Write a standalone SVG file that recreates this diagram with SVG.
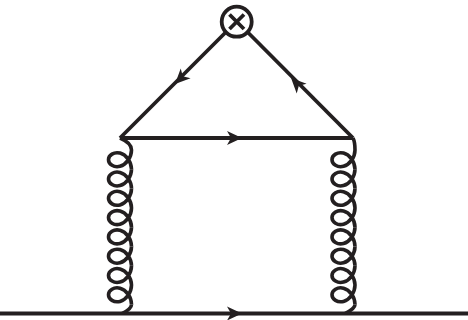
<svg xmlns="http://www.w3.org/2000/svg" width="468" height="320" viewBox="0 0 468 320">
<style>
.l{fill:none;stroke:#231f20;stroke-width:3.8}
.g{fill:none;stroke:#231f20;stroke-width:3.6}
.h{fill:#231f20;stroke:none}
</style>
<defs>
<path id="coil" d="M0 0C0 7.600-5.480 14.670-11.500 16.300C-17.520 17.930-23 14.140-23 9.700C-23 5.260-17.520 1.470-11.500 3.100C-5.480 4.730 0 11.700 0 19.300"/>
<path id="head" d="M7 0L-8 -7L-4 0L-8 7Z"/>
<g id="coils">
<use href="#coil" y="0"/><use href="#coil" y="19.300"/><use href="#coil" y="38.600"/><use href="#coil" y="57.900"/><use href="#coil" y="77.200"/><use href="#coil" y="96.500"/><use href="#coil" y="115.800"/><use href="#coil" y="135.100"/>
</g>
</defs>
<g id="connectors">
<path class="l" d="M0 313.500H468"/>
<path class="l" d="M120 138H353"/>
<path class="l" d="M225.500 32.500L120 138"/>
<path class="l" d="M248 32.500L353 138"/>
<g class="g">
<path d="M120 138C127 141 131.500 145 131.500 150"/>
<use href="#coils" x="131.500" y="150"/>
<path d="M131.500 304.400C131.500 308 127 311 122 313.500"/>
<path d="M353 138C354.500 141 355 145 355 150"/>
<use href="#coils" x="355" y="150"/>
<path d="M355 304.400C355 308 350 311 345 313.500"/>
</g>
<use href="#head" class="h" transform="translate(180 79) rotate(135)"/>
<use href="#head" class="h" transform="translate(296 83) rotate(-135)"/>
<use href="#head" class="h" transform="translate(235 138)"/>
<use href="#head" class="h" transform="translate(235 313.500)"/>
</g>
<g id="vertex">
<circle class="l" cx="236.700" cy="21.700" r="15"/>
<path class="l" d="M229.500 14.500L244 29M244 14.500L229.500 29"/>
</g>
</svg>
